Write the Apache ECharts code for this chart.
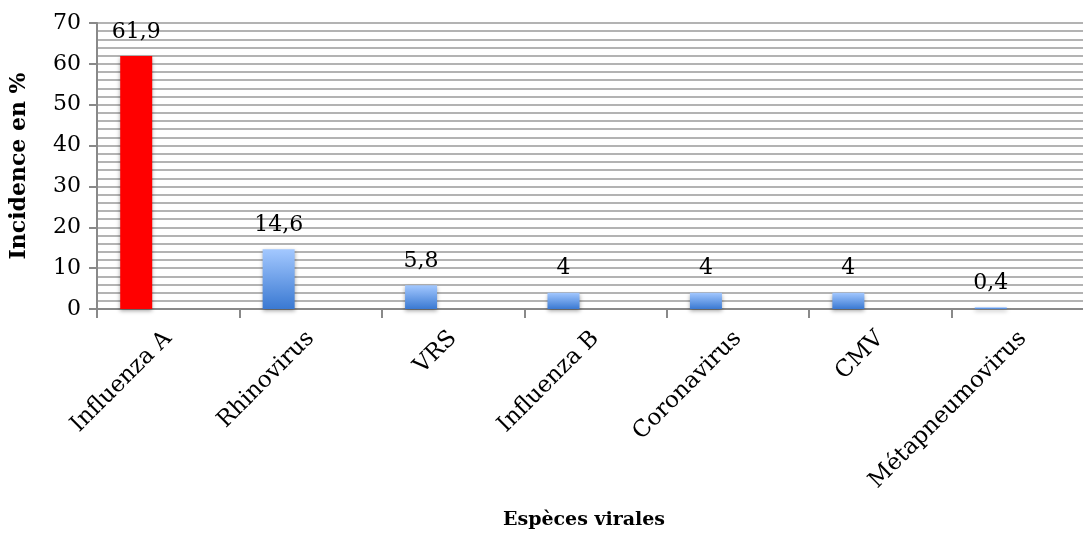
<!DOCTYPE html>
<html>
<head>
<meta charset="utf-8">
<title>Espèces virales</title>
<script src="https://cdn.jsdelivr.net/npm/echarts@6/dist/echarts.min.js"></script>
<style>
  html, body { margin: 0; padding: 0; background: #fff; }
  #chart { width: 1083px; height: 533px; }
</style>
</head>
<body>
<div id="chart"></div>
<script>
// données
const categories = ['Influenza A', 'Rhinovirus', 'VRS', 'Influenza B', 'Coronavirus', 'CMV', 'Métapneumovirus']
const incidence = [61.9, 14.6, 5.8, 4, 4, 4, 0.4]
// séries vides d'Excel (décalent les barres à gauche de la catégorie)
const emptySerie = categories.map(() => null)

const serif = '"DejaVu Serif", "Liberation Serif", serif'

const blueGradient = new echarts.graphic.LinearGradient(0, 0, 0, 1, [
  { offset: 0, color: '#a3c8ff' },
  { offset: 1, color: '#3a79d2' }
])

const chart = echarts.init(document.getElementById('chart'))

const option = {
  animation: false,
  title: {
    text: 'Espèces virales',
    left: 579,
    top: 506,
    textAlign: 'center',
    textStyle: { fontFamily: serif, fontWeight: 'bold', fontSize: 19, color: '#000' }
  },
  grid: {
    left: 97,
    width: 997,
    top: 23,
    height: 286,
    containLabel: false,
    outerBoundsMode: 'none'
  },
  xAxis: {
    type: 'category',
    data: categories,
    axisLine: { lineStyle: { color: '#898989', width: 2 } },
    axisTick: { show: true, length: 9, lineStyle: { color: '#898989', width: 2 } },
    axisLabel: {
      rotate: 45,
      margin: 26,
      interval: 0,
      fontFamily: serif,
      fontSize: 23,
      color: '#000'
    }
  },
  yAxis: {
    type: 'value',
    min: 0,
    max: 70,
    interval: 10,
    name: 'Incidence en %',
    nameLocation: 'middle',
    nameGap: 67,
    nameTextStyle: { fontFamily: serif, fontWeight: 'bold', fontSize: 22, color: '#000' },
    axisLine: { show: true, lineStyle: { color: '#898989', width: 2 } },
    axisTick: { show: true, length: 8, lineStyle: { color: '#898989', width: 2 } },
    axisLabel: { margin: 16, fontFamily: serif, fontSize: 22, color: '#000' },
    splitLine: { lineStyle: { color: '#b3b3b3', width: 2 } },
    minorTick: { show: false, splitNumber: 5 },
    minorSplitLine: { show: true, lineStyle: { color: '#b3b3b3', width: 2 } }
  },
  series: [
    {
      name: 'Incidence',
      type: 'bar',
      data: incidence,
      barWidth: 32,
      barGap: '0%',
      itemStyle: {
        color: (p) => p.dataIndex === 0 ? '#ff0000' : blueGradient,
        shadowColor: 'rgba(0,0,0,0.35)',
        shadowBlur: 4,
        shadowOffsetY: 2
      },
      label: {
        show: true,
        position: 'top',
        distance: 13,
        fontFamily: serif,
        fontSize: 22,
        color: '#000',
        formatter: (p) => String(p.value).replace('.', ',')
      }
    },
    { name: 'vide1', type: 'bar', data: emptySerie, barWidth: 32, barGap: '0%' },
    { name: 'vide2', type: 'bar', data: emptySerie, barWidth: 32, barGap: '0%' }
  ]
}

chart.setOption(option)
</script>
</body>
</html>
